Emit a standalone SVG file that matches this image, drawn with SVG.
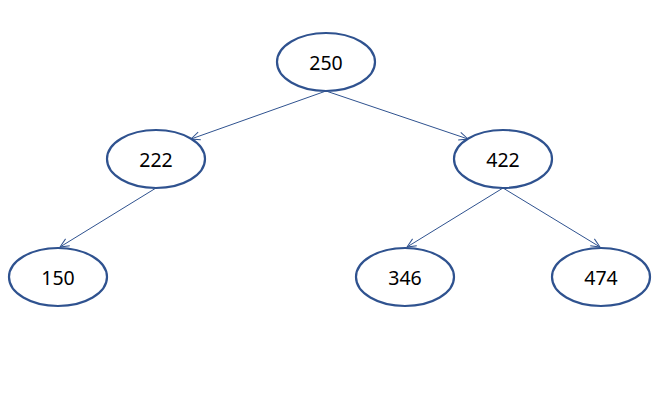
<svg xmlns="http://www.w3.org/2000/svg" width="666" height="403" viewBox="0 0 666 403">
<defs>
<marker id="arr" markerWidth="12" markerHeight="10" refX="10" refY="5" orient="auto" markerUnits="userSpaceOnUse">
<path d="M1,1 L10,5 L1,9" fill="none" stroke="#2F528F" stroke-width="1"/>
</marker>
<style>
.n ellipse{fill:#fff;stroke:#2F528F;stroke-width:2.2}
.n text{font-family:"Noto Sans","Open Sans",sans-serif;font-size:19.5px;fill:#000;text-anchor:middle;dominant-baseline:central}
.e line{stroke:#2F528F;stroke-width:1;marker-end:url(#arr)}
</style>
</defs>
<rect width="666" height="403" fill="#fff"/>
<g class="e" id="connectors">
<line x1="326" y1="91" x2="191" y2="139"/>
<line x1="326" y1="91" x2="468" y2="139"/>
<line x1="156" y1="188" x2="60" y2="247"/>
<line x1="503" y1="188" x2="407" y2="247"/>
<line x1="503" y1="188" x2="600" y2="247"/>
</g>
<g class="n" id="n250"><ellipse cx="326" cy="62" rx="49" ry="29"/><text x="326" y="62">250</text></g>
<g class="n" id="n222"><ellipse cx="156" cy="159" rx="49" ry="29"/><text x="156" y="159">222</text></g>
<g class="n" id="n422"><ellipse cx="503" cy="159" rx="49" ry="29"/><text x="503" y="159">422</text></g>
<g class="n" id="n150"><ellipse cx="58" cy="277" rx="49" ry="29"/><text x="58" y="277">150</text></g>
<g class="n" id="n346"><ellipse cx="405" cy="277" rx="49" ry="29"/><text x="405" y="277">346</text></g>
<g class="n" id="n474"><ellipse cx="601" cy="277" rx="49" ry="29"/><text x="601" y="277">474</text></g>
</svg>
